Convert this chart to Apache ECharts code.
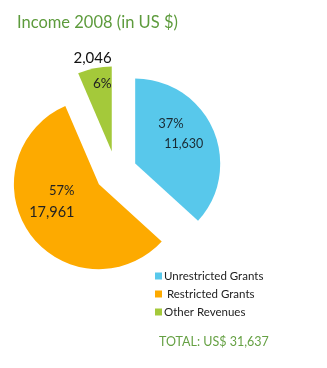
<!DOCTYPE html>
<html><head><meta charset="utf-8">
<script src="https://cdn.jsdelivr.net/npm/echarts@6/dist/echarts.min.js"></script>
<style>html,body{margin:0;padding:0;background:#fff}#c{width:327px;height:368px}</style>
</head><body><div id="c"></div>
<script>
var categories = ['Unrestricted Grants', 'Restricted Grants', 'Other Revenues'];
var values = [11630, 17961, 2046];
var percents = ['37%', '57%', '6%'];
var colors = ['#58c8eb', '#fdaa00', '#a4c93a'];
var titleText = 'Income 2008 (in US $)';

var total = values.reduce(function(a,b){return a+b;},0);
var fmt = function(n){return n.toString().replace(/\B(?=(\d{3})+(?!\d))/g, ',');};

var FONT = 'Lato';
var labelFormats = [
  {formatter: '{p|' + percents[0] + '}\n{v|' + fmt(values[0]) + '}',
   rich: {p:{fontSize:13, fontFamily:FONT, color:'#1a2a33', lineHeight:20, align:'left'},
          v:{fontSize:12.5, fontFamily:FONT, color:'#1a2a33', lineHeight:20, align:'left', padding:[0,0,0,6]}}},
  {formatter: '{p|' + percents[1] + '}\n{v|' + fmt(values[1]) + '}',
   rich: {p:{fontSize:13, fontFamily:FONT, color:'#222', lineHeight:22, align:'right'},
          v:{fontSize:14.5, fontFamily:FONT, color:'#222', lineHeight:22, align:'right'}}},
  {formatter: '{v|' + fmt(values[2]) + '}\n{p|' + percents[2] + '}',
   rich: {p:{fontSize:13.5, fontFamily:FONT, color:'#222', lineHeight:26, align:'right'},
          v:{fontSize:15, fontFamily:FONT, color:'#111', lineHeight:26, align:'left'}}}
];
var labelShift = [[4,-11],[-10,-9],[-10,-36]];

var data = categories.map(function(c,i){
  return {name:c, value:values[i], selected:true,
    itemStyle:{color:colors[i]},
    label:labelFormats[i]};
});

var chart = echarts.init(document.getElementById('c'), null, {renderer:'canvas'});
chart.setOption({
  animation:false,
  title:[
    {text:titleText, left:12, top:9, textStyle:{fontFamily:FONT, fontSize:16.5, fontWeight:'normal', color:'#5d9b3c'}},
    {text:'TOTAL: US$ ' + fmt(total), left:154, top:330, textStyle:{fontFamily:FONT, fontSize:12.5, fontWeight:'normal', color:'#66a144'}}
  ],
  legend:{
    orient:'vertical', left:150, top:265, itemWidth:7, itemHeight:7, itemGap:6, icon:'rect',
    selectedMode:false,
    textStyle:{fontFamily:FONT, fontSize:11.5, color:'#222', padding:[0,0,0,-3]},
    formatter:function(n){return n === categories[1] ? ' ' + n : n;},
    data:categories
  },
  series:[{
    type:'pie',
    center:[116,172],
    radius:85,
    startAngle:90,
    clockwise:true,
    selectedMode:'multiple',
    selectedOffset:21,
    silent:true,
    avoidLabelOverlap:false,
    label:{show:true, position:'inside'},
    labelLine:{show:false},
    select:{itemStyle:{borderWidth:0}},
    emphasis:{disabled:true},
    labelLayout:function(p){var s=labelShift[p.dataIndex];return {dx:s[0], dy:s[1]};},
    data:data
  }]
});
</script></body></html>
